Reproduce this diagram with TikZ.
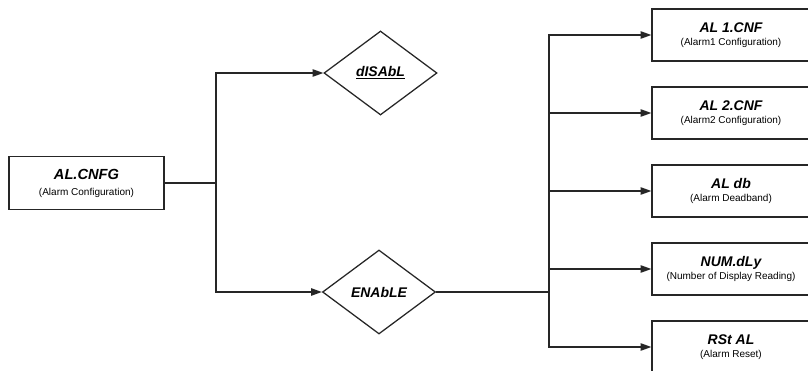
\documentclass[tikz,border=0pt]{standalone}
\usepackage{fontspec}
\setmainfont{Liberation Sans}
\usetikzlibrary{arrows.meta,positioning,shapes.geometric}
\definecolor{Line}{HTML}{262626}

\begin{document}
\begin{tikzpicture}[x=0.75pt,y=-0.75pt,
    menu/.style={rectangle,draw=Line,line width=0.95pt,fill=white,align=center,inner sep=0pt},
    choice/.style={diamond,draw=Line,line width=0.95pt,minimum width=84.75pt,minimum height=63pt,inner sep=0pt,font=\fontsize{10.5}{12}\selectfont\bfseries\itshape},
    link/.style={draw=Line,line width=0.95pt},
    arr/.style={link,-{Triangle[length=8pt,width=5.5pt]}}
]
\useasboundingbox (0,0) rectangle (808,371);
\node[menu,minimum width=116.25pt,minimum height=39.75pt] (cnfg) at (86.5,183)
    {\fontsize{11}{13}\selectfont\bfseries\itshape AL.CNFG\\
     \fontsize{7.5}{13}\selectfont (Alarm Configuration)};
\node[choice] (dis) at (380.5,73) {\underline{dISAbL}};
\node[choice] (ena) at (379,292) {ENAbLE};
\coordinate (j1) at (216,183);
\coordinate (j2) at (549,292);
\draw[link] (cnfg.east) -- (j1);
\draw[arr] (j1) |- (dis.west);
\draw[arr] (j1) |- (ena.west);
\draw[link] (ena.east) -- (j2);
\foreach \i/\y/\t/\s in {1/35/AL 1.CNF/Alarm1 Configuration,2/113/AL 2.CNF/Alarm2 Configuration,3/191/AL db/Alarm Deadband,4/269/NUM.dLy/Number of Display Reading,5/347/RSt AL/Alarm Reset}{
    \node[menu,minimum width=118.5pt,minimum height=39pt] (p\i) at (731,\y)
        {\fontsize{10.5}{11}\selectfont\bfseries\itshape \t\\[-2.5pt]
         \fontsize{7.5}{9}\selectfont (\s)};
    \draw[arr] (j2) |- (p\i.west);
}
\end{tikzpicture}
\end{document}
